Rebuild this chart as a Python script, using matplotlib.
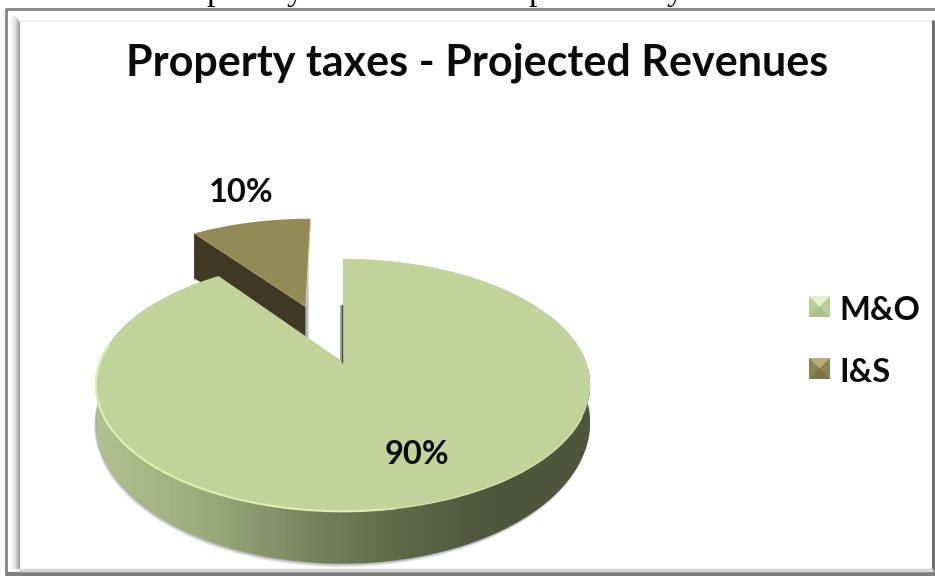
import numpy as np
import matplotlib
matplotlib.use("Agg")
import matplotlib.pyplot as plt
from matplotlib.colors import LinearSegmentedColormap
from matplotlib.patches import Polygon

categories = ["M&O", "I&S"]
shares = [90, 10]
chart_title = "Property taxes - Projected Revenues"
cut_off_letters = ["p", "y", "p", "y"]

top_colors = ["#c2d39b", "#938a55"]
font = "Lato"

# perspective disc
cx, cy = 343, 362
ax_x, ax_y = 243, 122
k = 0.1825
depth = 35
explode = 0.52
slice_shift = -2


def project(u, v):
    w = 1 + k * v
    return cx + ax_x * u / w, cy - ax_y * v / w


def drop(v):
    return depth / (1 + k * v) ** 2


def disc_arc(a0, a1, off=(0, 0), n=200):
    # angles in degrees, clockwise from the top
    t = np.radians(np.linspace(a0, a1, n))
    return off[0] + np.sin(t), off[1] + np.cos(t)


fig = plt.figure(figsize=(9.35, 5.76), dpi=100)
ax = fig.add_axes([0, 0, 1, 1])
ax.set_xlim(0, 935)
ax.set_ylim(576, 0)
ax.axis("off")

# line of page text cut by the top edge
for letter, x in zip(cut_off_letters, [215, 295, 537, 675]):
    ax.text(x, 0, letter, family="Liberation Serif", fontsize=24, ha="center",
            va="baseline", color="black", clip_on=True)

# frame with bevel
ax.plot([6, 6, 935], [576, 8.5, 8.5], color="#858585", lw=2, solid_capstyle="butt")
ax.plot([20, 933], [21, 21], color="#eeeeee", lw=1.5)
ax.plot([933, 933], [20, 571], color="#707070", lw=2.2, solid_capstyle="butt")
ax.plot([6, 935], [574, 574], color="#808080", lw=3, solid_capstyle="butt")
ax.plot([19, 933], [570, 570], color="#d8d8d8", lw=2.5, solid_capstyle="butt")
bevel = LinearSegmentedColormap.from_list("bevel", ["#ffffff", "#e6e6e6", "#9c9c9c"])
im = ax.imshow(np.linspace(0, 1, 32)[None, :], extent=(10, 20, 569, 12), cmap=bevel,
               aspect="auto", zorder=1)
im.set_clip_path(Polygon([(10, 12), (20, 21), (20, 569), (10, 572)],
                         transform=ax.transData))
ax.set_xlim(0, 935)
ax.set_ylim(576, 0)

ax.text(477.5, 63, chart_title, family=font, weight="bold", fontsize=31,
        ha="center", va="center", color="#0a0a0a")

# angles of the slices
a_split = 360 * shares[0] / sum(shares)
mid = (a_split + 360) / 2
off = (explode * np.sin(np.radians(mid)), explode * np.cos(np.radians(mid)))

# I&S slice, pulled out
u, v = disc_arc(a_split, 360, off)
su = np.r_[off[0], u]
sv = np.r_[off[1], v]
sx, sy = project(su, sv)
sx = sx + slice_shift
# shadow on the right of the slice
for step, alpha in [(4, 0.25), (2.5, 0.35), (1.2, 0.45)]:
    ax.fill([sx[0], sx[0] + step, sx[0] + step, sx[0]],
            [sy[-1] + 44, sy[-1] + 44, sy[0] + 31, sy[0] + 31],
            color="#777777", alpha=alpha, lw=0, zorder=2)
corner_x, corner_y = sx[1], sy[1]
apex_x, apex_y = sx[0], sy[0]
ax.add_patch(Polygon([(corner_x, corner_y), (apex_x, apex_y), (apex_x, apex_y + 31),
                      (corner_x, corner_y + 45)], fc="#3f3822", ec="none", zorder=3))
ax.fill([apex_x, apex_x + 1, sx[-1] + 1, sx[-1]], [apex_y, apex_y, sy[-1], sy[-1]],
        color="#d9d6b5", lw=0, zorder=3)
ax.add_patch(Polygon(np.c_[sx, sy], fc=top_colors[1], ec="none", zorder=4))

# M&O side wall
u, v = disc_arc(65, 300)
rx, ry = project(u, v)
bx, by = rx, ry + drop(v)
wall = Polygon(np.r_[np.c_[rx, ry], np.c_[bx, by][::-1]], transform=ax.transData)
for step, alpha in [(3.5, 0.15), (2.2, 0.25), (1, 0.35)]:
    ax.add_patch(Polygon(np.r_[np.c_[rx, ry], np.c_[bx - step / 2, by + step][::-1]],
                         fc="#777777", ec="none", alpha=alpha, zorder=5))
wall_cmap = LinearSegmentedColormap.from_list(
    "wall", ["#b2c190", "#9eae7e", "#7e8a63", "#5f6a49", "#4e563b", "#4d553a"])
im = ax.imshow(np.linspace(0, 1, 256)[None, :], extent=(97, 590, 575, 370), cmap=wall_cmap,
               aspect="auto", zorder=6)
im.set_clip_path(wall)
ax.set_xlim(0, 935)
ax.set_ylim(576, 0)

# M&O top face
u, v = disc_arc(0, a_split)
tx, ty = project(np.r_[0, u], np.r_[0, v])
ax.plot([tx[1] - 2, tx[0] - 2], [ty[1] + 46, ty[0]], color="#8a8a8a", lw=2, zorder=6,
        alpha=0.8, solid_capstyle="butt")
ax.add_patch(Polygon(np.c_[tx, ty], fc=top_colors[0], ec="none", zorder=7))
ax.plot([tx[0] - 1, tx[0] - 1], [ty[1] + 46, ty[0]], color="#4b5238", lw=1, zorder=8)

# lit rim along the front edge, fading out to the right
u, v = disc_arc(170, 278)
rx, ry = project(u, v)
ax.plot(rx, ry, color="#dcefb0", lw=1.6, zorder=8)
u, v = disc_arc(115, 172)
rx, ry = project(u, v)
ax.plot(rx, ry, color="#d2e3a8", lw=1.0, zorder=8)

ax.text(417, 455, f"{shares[0]}%", family=font, weight="bold", fontsize=23.5, ha="center",
        va="center", color="#0a0a0a", zorder=9)
ax.text(241, 192, f"{shares[1]}%", family=font, weight="bold", fontsize=23.5, ha="center",
        va="center", color="#0a0a0a", zorder=9)

# legend keys with pyramid bevel
keys = [("#e6efd0", "#bccd96", "#b0c08c", "#bccd96"), ("#b5ad7a", "#8d8450", "#7a7346", "#8d8450")]
for name, y0, shades in zip(categories, [296, 358], keys):
    x0, s = 809, 21
    x1, y1 = x0 + s, y0 + s
    mx, my = x0 + s / 2, y0 + s / 2
    ax.add_patch(Polygon([(x0, y0), (x1, y0), (x1, y1), (x0, y1)], fc=shades[1], ec="none"))
    ax.add_patch(Polygon([(x0, y0), (x1, y0), (mx, my)], fc=shades[0], ec="none"))
    ax.add_patch(Polygon([(x0, y1), (x1, y1), (mx, my)], fc=shades[2], ec="none"))
    ax.text(839, y0 + 14, name, family=font, weight="bold", fontsize=23.5, ha="left",
            va="center", color="#0a0a0a")

fig.savefig("out.png", dpi=100)
